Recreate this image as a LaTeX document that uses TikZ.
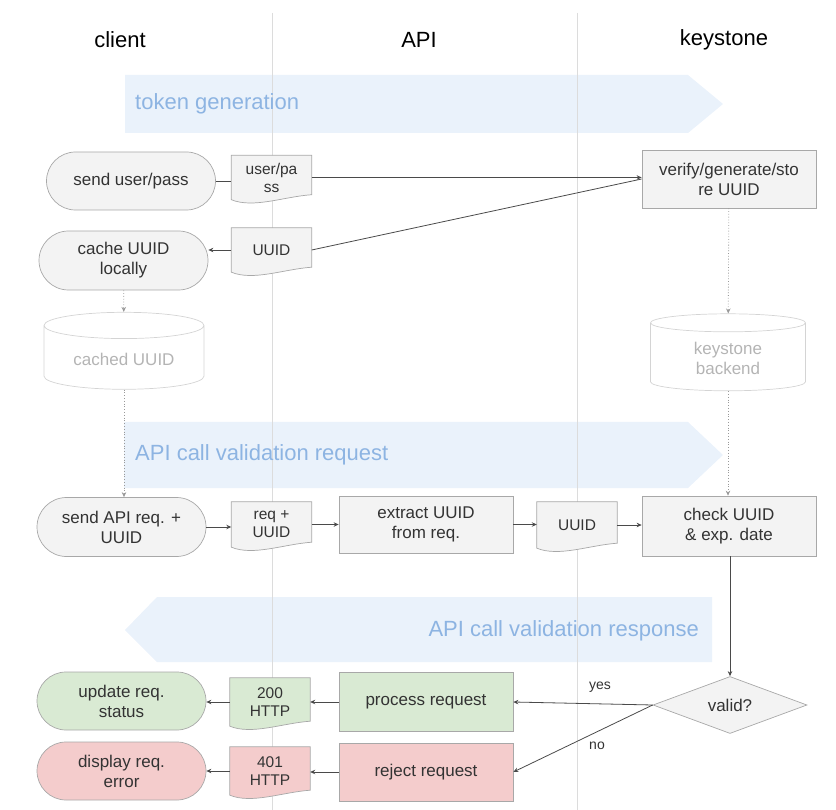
\documentclass[tikz,border=0pt]{standalone}
\usepackage{fontspec}
\setmainfont{Liberation Sans}
\usetikzlibrary{arrows.meta,shapes.geometric,shapes.misc,calc}
\definecolor{box_gray}{HTML}{F3F3F3}
\definecolor{edge_gray}{HTML}{A8A8A8}
\definecolor{ok_green}{HTML}{D9EAD3}
\definecolor{err_red}{HTML}{F4CCCC}
\definecolor{band_blue}{HTML}{EAF2FB}
\definecolor{band_text}{HTML}{8DB4E2}
\definecolor{light_edge}{HTML}{D4D4D4}
\definecolor{light_text}{HTML}{B4B4B4}
\definecolor{wire_gray}{HTML}{4A4A4A}
\definecolor{text_gray}{HTML}{333333}
\definecolor{lane_gray}{HTML}{DCDCDC}
\pgfdeclarelayer{back}
\pgfdeclarelayer{mid}
\pgfsetlayers{back,mid,main}
\tikzstyle{body}=[font=\fontsize{17}{20}\selectfont,text=text_gray,align=center,inner sep=2pt]
\tikzstyle{pb}=[body,rectangle,fill=box_gray,draw=edge_gray,line width=0.7pt,
  minimum width=174,minimum height=58]
\tikzstyle{tb}=[body,rounded rectangle,fill=box_gray,draw=edge_gray,line width=0.7pt,
  minimum width=173,minimum height=58]
\tikzstyle{db}=[body,font=\fontsize{15.5}{18}\selectfont,draw=none,
  minimum width=80,minimum height=44]
\tikzstyle{sb}=[body,text=light_text,cylinder,shape border rotate=90,aspect=0.25,
  draw=light_edge,line width=0.7pt,minimum width=160,minimum height=77]
\tikzstyle{qb}=[body,diamond,aspect=2.7,fill=box_gray,draw=edge_gray,line width=0.7pt,
  minimum width=154,minimum height=57,inner sep=0pt]
\tikzstyle{lane}=[font=\fontsize{22}{26}\selectfont,text=black]
\tikzstyle{bandtxt}=[font=\fontsize{22}{26}\selectfont,text=band_text,inner sep=0pt]
\tikzstyle{lbl}=[font=\fontsize{14}{16}\selectfont,text=text_gray]
\tikzstyle{wire}=[draw=wire_gray,line width=0.8pt]
\tikzstyle{flow}=[wire,-{Stealth[length=5pt,width=4.5pt]}]
\tikzstyle{dots}=[draw=gray!80,line width=0.8pt,dotted,-{Stealth[length=5pt,width=4.5pt]}]

\begin{document}
\begin{tikzpicture}[x=1pt,y=-1pt]
    \useasboundingbox (0,0) rectangle (836,810);
    % lanes and phase bands
    \begin{pgfonlayer}{back}
        \fill[band_blue] (125,75) -- (688,75) -- (723,104) -- (688,133) -- (125,133) -- cycle;
        \fill[band_blue] (124,422) -- (688,422) -- (723,455) -- (688,488) -- (124,488) -- cycle;
        \fill[band_blue] (712,597) -- (157,597) -- (125,630) -- (157,662) -- (712,662) -- cycle;
        \draw[lane_gray,line width=0.7pt] (272,13) -- (272,810);
        \draw[lane_gray,line width=0.7pt] (577,13) -- (577,810);
    \end{pgfonlayer}
    \node [style=lane] (hClient) at (120,40) {client};
    \node [style=lane] (hApi) at (419,40) {API};
    \node [style=lane] (hKey) at (724,40) {keystone};
    \node [style=bandtxt,anchor=west] (bGen) at (135,104) {token generation};
    \node [style=bandtxt,anchor=west] (bReq) at (135,455) {API call validation request};
    \node [style=bandtxt,anchor=east] (bResp) at (699,631) {API call validation response};

    % token generation
    \node [style=tb] (sendPass) at (131,181) {send user/pass};
    \node [style=db] (dPass) at (271.5,177.5) {user/pa\\ss};
    \node [style=pb] (verify) at (729,179) {verify/generate/sto\\re UUID};
    \node [style=tb,minimum height=59] (cache) at (123.5,260.5) {cache UUID\\locally};
    \node [style=db] (dUuid) at (271.5,250) {UUID};
    \node [style=sb] (cachedId) at (124,359) {cached UUID};
    \node [style=sb,minimum width=155] (backend) at (728,358) {keystone\\backend};

    % validation request
    \node [style=tb,minimum height=59] (sendReq) at (121.5,527) {send API req. +\\UUID};
    \node [style=db,minimum height=45] (dReq) at (271.5,524.5) {req +\\UUID};
    \node [style=pb,minimum height=57] (extract) at (426,524.5) {extract UUID\\from req.};
    \node [style=db,minimum height=46] (dKey) at (577,525) {UUID};
    \node [style=pb,minimum height=60] (check) at (729,526) {check UUID\\\& exp. date};

    % validation response
    \node [style=qb] (valid) at (730,705) {valid?};
    \node [style=pb,fill=ok_green,minimum height=59] (process) at (426,702) {process request};
    \node [style=db,minimum height=48] (dOk) at (270,702) {200\\HTTP};
    \node [style=tb,fill=ok_green] (update) at (121.5,701) {update req.\\status};
    \node [style=pb,fill=err_red] (reject) at (426,772) {reject request};
    \node [style=db,minimum height=48] (dErr) at (270,771) {401\\HTTP};
    \node [style=tb,fill=err_red] (showErr) at (121.5,771) {display req.\\error};
    \node [style=lbl] (yesLbl) at (600,687) {yes};
    \node [style=lbl] (noLbl) at (597,746) {no};

    % document outlines
    \begin{pgfonlayer}{mid}
        \foreach \n/\c in {dPass/box_gray,dUuid/box_gray,dReq/box_gray,dKey/box_gray,dOk/ok_green,dErr/err_red}
            \draw[draw=edge_gray,fill=\c,line width=0.7pt] (\n.north west) -- (\n.north east)
                -- ([yshift=5]\n.south east)
                .. controls ([xshift=-28,yshift=3]\n.south east) and ([xshift=22,yshift=-9]\n.south west) .. (\n.south west)
                -- cycle;
    \end{pgfonlayer}

    \draw [style=wire] (sendPass.east) to (sendPass.east -| dPass.west);
    \draw [style=flow] (dPass.east) to (dPass.east -| verify.west);
    \draw [style=wire] (verify.west) to (dUuid.east);
    \draw [style=flow] (dUuid.west) to (dUuid.west -| cache.east);
    \draw [style=dots] (cache) to (cachedId);
    \draw [style=dots] (verify) to (backend);
    \draw [style=dots] (cachedId) to (cachedId.south |- sendReq.north);
    \draw [style=dots] (backend) to (backend.south |- check.north);
    \draw [style=flow] (sendReq.east) to (sendReq.east -| dReq.west);
    \draw [style=flow] (dReq.east) to (dReq.east -| extract.west);
    \draw [style=flow] (extract.east) to (extract.east -| dKey.west);
    \draw [style=flow] (dKey.east) to (dKey.east -| check.west);
    \draw [style=flow] (check.south -| valid.north) to (valid.north);
    \draw [style=flow] (valid.west) to (process.east);
    \draw [style=flow] (valid.west) to (reject.east);
    \draw [style=flow] (process.west) to (process.west -| dOk.east);
    \draw [style=flow] (dOk.west) to (dOk.west -| update.east);
    \draw [style=flow] (reject.west) to (reject.west -| dErr.east);
    \draw [style=flow] (dErr.west) to (dErr.west -| showErr.east);
\end{tikzpicture}
\end{document}
